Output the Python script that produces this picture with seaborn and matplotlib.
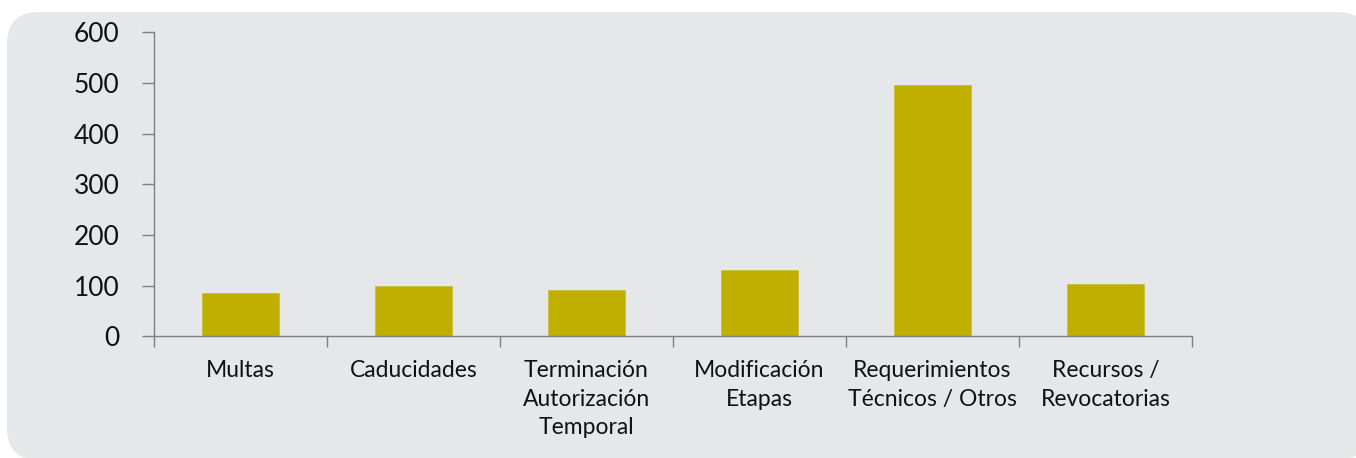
import matplotlib
matplotlib.use("Agg")
import matplotlib.pyplot as plt
import matplotlib.transforms as mtransforms
from matplotlib.patches import FancyBboxPatch
import numpy as np
import pandas as pd
import seaborn as sns

# data
categorias = ["Multas", "Caducidades", "Terminación\nAutorización\nTemporal",
              "Modificación\nEtapas", "Requerimientos\nTécnicos / Otros",
              "Recursos /\nRevocatorias"]
valores = [85, 100, 91, 132, 495, 103]
ticks_y = [0, 100, 200, 300, 400, 500, 600]

df = pd.DataFrame({"categoria": categorias, "valor": valores})

sns.set_style("white")
plt.rcParams["font.family"] = ["Lato", "DejaVu Sans"]

fig = plt.figure(figsize=(13.56, 4.58), dpi=100, facecolor="white")

# rounded grey panel behind the chart (pixel coordinates)
panel = FancyBboxPatch((7, -2), 1362, 448,
                       boxstyle="round,pad=0,rounding_size=32",
                       transform=mtransforms.IdentityTransform(),
                       facecolor="#E6E7E8", edgecolor="none", zorder=0)
fig.add_artist(panel)

ax = fig.add_axes([0.1136, 0.2653, 0.7655, 0.6647])
ax.set_facecolor("none")

sns.barplot(data=df, x="categoria", y="valor", ax=ax, color="#C1AF00",
            width=0.45, saturation=1, edgecolor="#CDBE3A", linewidth=0.6)

ax.set_ylim(0, 600)
ax.set_xlim(-0.5, len(categorias) - 0.5)
ax.set_yticks(ticks_y)
ax.set_yticklabels([str(t) for t in ticks_y], fontsize=19, color="#111111")
ax.set_xticks(np.arange(len(categorias) + 1) - 0.5, minor=False)
ax.set_xticklabels([])
ax.set_xticks(np.arange(len(categorias)), minor=True)
ax.set_xticklabels(categorias, minor=True, fontsize=16.5, linespacing=1.45,
                   color="#111111")
ax.tick_params(axis="x", which="minor", bottom=True, length=0, pad=17)
ax.tick_params(axis="x", which="major", bottom=True, direction="out",
               length=8, width=1, color="#808080")
ax.tick_params(axis="y", left=True, direction="out", length=9, width=1,
               color="#808080", pad=16)
ax.set_xlabel("")
ax.set_ylabel("")

for s in ["top", "right"]:
    ax.spines[s].set_visible(False)
for s in ["left", "bottom"]:
    ax.spines[s].set_color("#808080")
    ax.spines[s].set_linewidth(1)

fig.savefig("out.png", dpi=100, facecolor="white")
